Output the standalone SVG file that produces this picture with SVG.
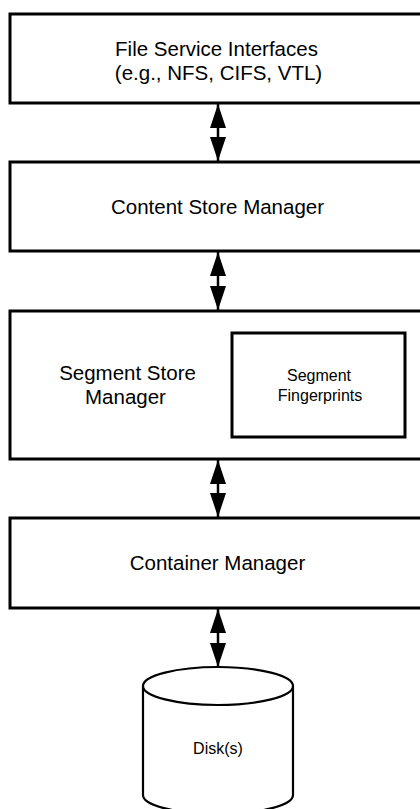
<svg xmlns="http://www.w3.org/2000/svg" width="420" height="809" viewBox="0 0 420 809">
  <style>
    .box { fill: #ffffff; stroke: #000000; stroke-width: 3; }
    .cyl { fill: #ffffff; stroke: #000000; stroke-width: 2.2; }
    .lbl { font-family: "Liberation Sans", Arial, sans-serif; fill: #000000; text-anchor: middle; }
    .big { font-size: 20.5px; }
    .small { font-size: 16px; }
    .conn { stroke: #000000; stroke-width: 2.5; fill: none; marker-start: url(#ah); marker-end: url(#ah); }
  </style>
  <defs>
    <marker id="ah" viewBox="0 0 24 16" refX="24" refY="8" markerWidth="24" markerHeight="16" markerUnits="userSpaceOnUse" orient="auto-start-reverse">
      <path d="M0,0 L24,8 L0,16 z" fill="#000000"/>
    </marker>
  </defs>
  <rect x="0" y="0" width="420" height="809" fill="#ffffff"/>

  <g id="file-service-interfaces">
    <rect class="box" x="10" y="14" width="420" height="89"/>
    <text class="lbl big" x="216.5" y="56">File Service Interfaces</text>
    <text class="lbl big" x="218.5" y="80">(e.g., NFS, CIFS, VTL)</text>
  </g>

  <g id="content-store-manager">
    <rect class="box" x="10" y="162" width="420" height="89"/>
    <text class="lbl big" x="217.5" y="214">Content Store Manager</text>
  </g>

  <g id="segment-store-manager">
    <rect class="box" x="10" y="311" width="420" height="148"/>
    <text class="lbl big" x="127.5" y="380">Segment Store</text>
    <text class="lbl big" x="125.5" y="404">Manager</text>
  </g>

  <g id="segment-fingerprints">
    <rect class="box" x="232" y="333" width="173" height="104"/>
    <text class="lbl small" x="319" y="381">Segment</text>
    <text class="lbl small" x="320" y="401">Fingerprints</text>
  </g>

  <g id="container-manager">
    <rect class="box" x="10" y="518" width="420" height="90"/>
    <text class="lbl big" x="217.5" y="570">Container Manager</text>
  </g>

  <g id="disks">
    <path class="cyl" d="M143,686 L143,795 A75,19 0 0 0 293,795 L293,686"/>
    <ellipse class="cyl" cx="218" cy="686" rx="75" ry="19"/>
    <text class="lbl small" x="218" y="754">Disk(s)</text>
  </g>

  <g id="connectors">
    <line class="conn" x1="218" y1="104" x2="218" y2="161"/>
    <line class="conn" x1="218" y1="252" x2="218" y2="310"/>
    <line class="conn" x1="218" y1="460" x2="218" y2="517"/>
    <line class="conn" x1="218" y1="609" x2="218" y2="667"/>
  </g>
</svg>
